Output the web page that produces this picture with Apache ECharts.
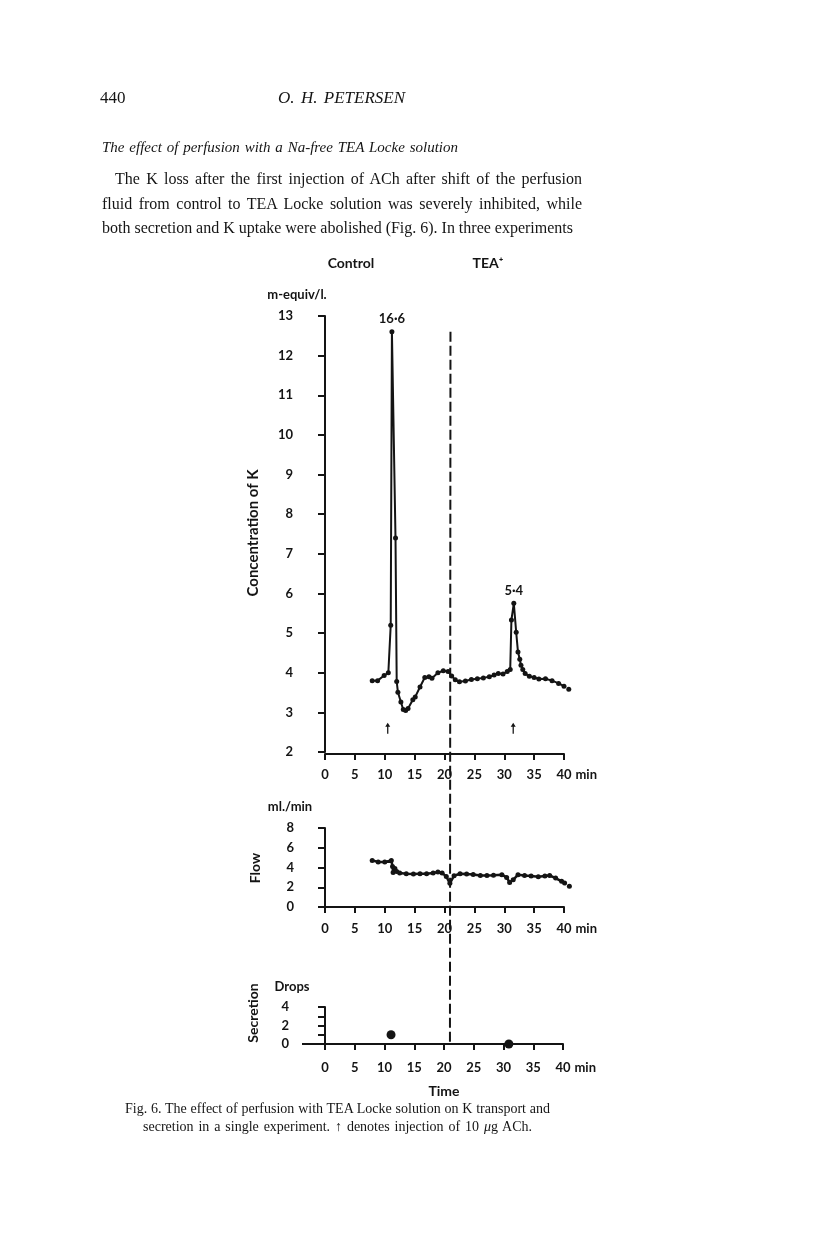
<!DOCTYPE html>
<html>
<head>
<meta charset="utf-8">
<script src="https://cdn.jsdelivr.net/npm/echarts@6/dist/echarts.min.js"></script>
<style>
  html, body { margin: 0; padding: 0; background: #fff; }
  #page { position: relative; width: 816px; height: 1255px; overflow: hidden; background: #fff; }
  #chart { position: absolute; left: 0; top: 0; width: 816px; height: 1255px; }
  .ln { position: absolute; white-space: nowrap; font-family: 'Liberation Serif', 'DejaVu Serif', serif; color: #151515; line-height: 1; }
  .it { font-style: italic; }
</style>
</head>
<body>
<div id="page">
  <div id="chart"></div>

  <div class="ln" style="left:100px; top:89px; font-size:17px;">440</div>
  <div class="ln it" data-w="127" style="left:278px; top:89px; font-size:17px;">O. H. PETERSEN</div>
  <div class="ln it" data-w="356" style="left:102px; top:140px; font-size:15px;">The effect of perfusion with a Na-free TEA Locke solution</div>
  <div class="ln" data-w="467" style="left:115px; top:171px; font-size:16px;">The K loss after the first injection of ACh after shift of the perfusion</div>
  <div class="ln" data-w="480" style="left:102px; top:196px; font-size:16px;">fluid from control to TEA Locke solution was severely inhibited, while</div>
  <div class="ln" data-w="471" style="left:102px; top:220px; font-size:16px;">both secretion and K uptake were abolished (Fig. 6). In three experiments</div>

  <div class="ln" data-w="425" style="left:125px; top:1102px; font-size:14px;">Fig. 6. The effect of perfusion with TEA Locke solution on K transport and</div>
  <div class="ln" data-w="389" style="left:143px; top:1120px; font-size:14px;">secretion in a single experiment. ↑ denotes injection of 10 <i>μ</i>g ACh.</div>
</div>

<script>
// ==============================
// data
// ==============================

// K concentration (m-equiv/l.) vs time (min)
const kTime = [7.9, 8.8, 9.9, 10.6, 11.0, 11.2, 11.8, 12.0, 12.2, 12.7, 13.1, 13.5, 13.9, 14.7, 15.1, 15.9, 16.7, 17.4, 17.9, 18.9,
  19.8, 20.6, 21.2, 21.8, 22.5, 23.5, 24.5, 25.5, 26.5, 27.5, 28.3, 29.0, 29.8, 30.5, 31.0, 31.2, 31.6, 32.0, 32.3, 32.6,
  32.8, 33.1, 33.5, 34.2, 35.0, 35.8, 36.9, 38.0, 39.1, 40.0, 40.8];
const kConc = [3.80, 3.80, 3.93, 4.00, 5.20, 12.6, 7.40, 3.78, 3.51, 3.26, 3.07, 3.05, 3.10, 3.32, 3.39, 3.64, 3.88, 3.90, 3.86, 4.00,
  4.05, 4.03, 3.92, 3.82, 3.77, 3.79, 3.83, 3.85, 3.87, 3.90, 3.94, 3.98, 3.97, 4.03, 4.08, 5.33, 5.75, 5.02, 4.52, 4.34,
  4.19, 4.08, 3.98, 3.91, 3.88, 3.84, 3.85, 3.80, 3.73, 3.66, 3.58];
// printed values above the two peaks (index into kTime)
const kPeakIdx = [5, 36];
const kPeakText = ['16·6', '5·4'];

// flow (ml./min)
const flowTime = [7.9, 8.9, 10.0, 11.1, 11.3, 11.4, 11.7, 12.0, 12.5, 13.6, 14.8, 15.9, 17.0, 18.1, 18.9, 19.6, 20.3, 20.9, 21.6, 22.6,
  23.7, 24.8, 26.0, 27.1, 28.2, 29.6, 30.4, 30.9, 31.5, 32.3, 33.4, 34.5, 35.7, 36.8, 37.6, 38.6, 39.6, 40.1, 40.9];
const flowRate = [4.72, 4.55, 4.55, 4.70, 4.10, 3.50, 3.90, 3.60, 3.44, 3.37, 3.35, 3.37, 3.37, 3.44, 3.54, 3.44, 3.10, 2.40, 3.17, 3.37,
  3.35, 3.30, 3.19, 3.19, 3.22, 3.27, 3.00, 2.49, 2.75, 3.27, 3.19, 3.13, 3.07, 3.13, 3.19, 2.93, 2.60, 2.43, 2.09];

// secretion (drops)
const dropTime = [11.1, 30.9];
const dropCount = [1.0, 0];

// ACh injections and switch control -> TEA
const achTime = [10.5, 31.5];
const achMarkLevel = 2.6;
const switchTime = 21.0;

const timeTicks = { min: 0, max: 40, interval: 5 };
const kTicks = { min: 2, max: 13, interval: 1 };
const flowTicks = { min: 0, max: 8, interval: 2 };
const dropTicks = { min: 0, max: 4, interval: 2 };

// ==============================
// styles
// ==============================
const ink = '#141414';
const labelFont = { color: ink, fontFamily: 'Lato', fontWeight: 'bold', fontSize: 13 };

function timeAxis(gridIndex, margin, offset) {
  return {
    type: 'value', gridIndex, ...timeTicks, offset,
    axisLine: { lineStyle: { color: ink, width: 2 } },
    axisTick: { length: 6, lineStyle: { color: ink, width: 2 } },
    axisLabel: { ...labelFont, margin },
    splitLine: { show: false },
    name: 'min', nameLocation: 'end', nameGap: 9,
    nameTextStyle: { ...labelFont, align: 'left', verticalAlign: 'top', padding: [margin, 0, 0, 0] }
  };
}

function valueAxis(gridIndex, ticks, offset, margin, extra) {
  return Object.assign({
    type: 'value', gridIndex, ...ticks, offset,
    axisLine: { show: true, lineStyle: { color: ink, width: 2 } },
    axisTick: { show: true, length: 7, lineStyle: { color: ink, width: 2 } },
    axisLabel: { ...labelFont, margin },
    splitLine: { show: false }
  }, extra || {});
}

const arrowPath = 'path://M5,0 L9,6 L6,6 L6,16 L4,16 L4,6 L1,6 Z';

const chart = echarts.init(document.getElementById('chart'), null, { renderer: 'canvas' });

chart.setOption({
  animation: false,
  backgroundColor: 'transparent',
  grid: [
    { left: 325, top: 316, width: 239, height: 436 },
    { left: 325, top: 828, width: 239, height: 79 },
    { left: 325, top: 1007, width: 238, height: 37 }
  ],
  xAxis: [
    timeAxis(0, 14, 2),
    timeAxis(1, 15, 0),
    timeAxis(2, 17, 0)
  ],
  yAxis: [
    valueAxis(0, kTicks, 20, 12),
    valueAxis(1, flowTicks, 19, 12),
    valueAxis(2, dropTicks, 23, 13, {
      minorTick: { show: true, splitNumber: 2, length: 7, lineStyle: { color: ink, width: 2 } }
    })
  ],
  series: [
    {
      type: 'line', xAxisIndex: 0, yAxisIndex: 0,
      data: kTime.map((t, i) => {
        const k = kPeakIdx.indexOf(i);
        if (k < 0) return [t, kConc[i]];
        return {
          value: [t, kConc[i]],
          label: { show: true, position: 'top', distance: 4, formatter: kPeakText[k], ...labelFont }
        };
      }),
      symbol: 'circle', symbolSize: 5,
      lineStyle: { color: ink, width: 2 },
      itemStyle: { color: ink },
      clip: false
    },
    {
      type: 'scatter', xAxisIndex: 0, yAxisIndex: 0,
      data: achTime.map(t => [t, achMarkLevel]),
      symbol: arrowPath, symbolSize: [5, 11],
      itemStyle: { color: ink, opacity: 1 }
    },
    {
      type: 'line', xAxisIndex: 1, yAxisIndex: 1,
      data: flowTime.map((t, i) => [t, flowRate[i]]),
      symbol: 'circle', symbolSize: 5,
      lineStyle: { color: ink, width: 2.5 },
      itemStyle: { color: ink },
      clip: false
    },
    {
      type: 'scatter', xAxisIndex: 2, yAxisIndex: 2,
      data: dropTime.map((t, i) => [t, dropCount[i]]),
      symbol: 'circle', symbolSize: 9,
      itemStyle: { color: ink, opacity: 1 },
      clip: false
    }
  ]
});

// dashed switch line through all three panels, plus the little stub of the
// secretion time axis that reaches back to its y axis
const topPt = chart.convertToPixel({ xAxisIndex: 0, yAxisIndex: 0 }, [switchTime, Math.max(...kConc)]);
const botPt = chart.convertToPixel({ xAxisIndex: 2, yAxisIndex: 2 }, [switchTime, 0]);
const sOrigin = chart.convertToPixel({ xAxisIndex: 2, yAxisIndex: 2 }, [0, 0]);

function txt(text, x, y, size, rot) {
  return {
    type: 'text', x, y, rotation: rot || 0, silent: true,
    style: { text, fill: ink, font: 'bold ' + size + 'px Lato', align: 'center', verticalAlign: 'middle' }
  };
}

chart.setOption({
  graphic: [
    {
      type: 'line', silent: true,
      shape: { x1: topPt[0], y1: topPt[1], x2: botPt[0], y2: botPt[1] },
      style: { stroke: ink, lineWidth: 2, lineDash: [10, 4] }
    },
    {
      type: 'line', silent: true,
      shape: { x1: sOrigin[0] - 23, y1: sOrigin[1], x2: sOrigin[0], y2: sOrigin[1] },
      style: { stroke: ink, lineWidth: 2 }
    },
    txt('Control', 351, 263, 14),
    txt('TEA⁺', 488, 263, 14),
    txt('m-equiv/l.', 297, 295, 13),
    txt('Concentration of K', 253, 533, 15, Math.PI / 2),
    txt('ml./min', 290, 807, 13),
    txt('Flow', 255, 868, 14, Math.PI / 2),
    txt('Drops', 292, 987, 13),
    txt('Secretion', 253, 1013, 14, Math.PI / 2),
    txt('Time', 444, 1091, 14)
  ]
});

// ==============================
// stretch each printed line of text to its measured width
// ==============================
document.querySelectorAll('.ln[data-w]').forEach(el => {
  const target = +el.dataset.w;
  const natural = el.getBoundingClientRect().width;
  const gaps = (el.textContent.match(/ /g) || []).length;
  if (gaps > 0) el.style.wordSpacing = ((target - natural) / gaps) + 'px';
});
</script>
</body>
</html>
